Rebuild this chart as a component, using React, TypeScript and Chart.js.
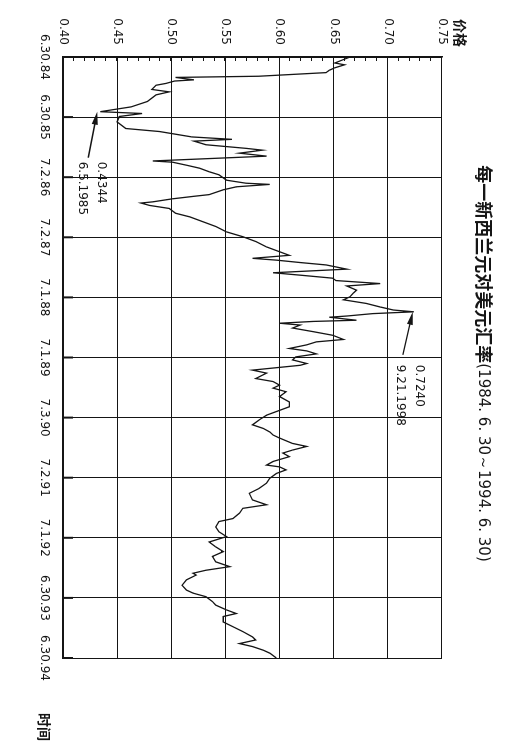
import React, { useEffect, useRef } from "react";
import { Chart, registerables } from "chart.js";

Chart.register(...registerables);

// Time axis: years elapsed since 6.30.1984 (grid every year)
const dateLabels = ["6.30.84", "6.30.85", "7.2.86", "7.2.87", "7.1.88", "7.1.89", "7.3.90", "7.2.91", "7.1.92", "6.30.93", "6.30.94"];
const priceTicks = [0.40, 0.45, 0.50, 0.55, 0.60, 0.65, 0.70, 0.75];

const yearOffsets = [
  0.00, 0.05, 0.10, 0.13, 0.18, 0.22, 0.26, 0.32, 0.34, 0.38, 0.40, 0.44, 0.47, 0.54, 0.58, 0.63, 0.74, 0.83, 0.88, 0.91,
  0.94, 0.99, 1.08, 1.19, 1.24, 1.33, 1.37, 1.40, 1.46, 1.52, 1.55, 1.60, 1.65, 1.73, 1.75, 1.80, 1.85, 1.91, 1.96, 2.05,
  2.10, 2.12, 2.16, 2.21, 2.29, 2.32, 2.36, 2.41, 2.43, 2.47, 2.52, 2.60, 2.66, 2.74, 2.82, 2.91, 2.99, 3.07, 3.16, 3.24,
  3.30, 3.35, 3.38, 3.42, 3.46, 3.53, 3.59, 3.63, 3.68, 3.72, 3.77, 3.81, 3.88, 3.93, 3.99, 4.04, 4.10, 4.16, 4.21, 4.24,
  4.27, 4.31, 4.33, 4.38, 4.40, 4.43, 4.46, 4.51, 4.57, 4.63, 4.70, 4.74, 4.79, 4.85, 4.89, 4.94, 4.99, 5.04, 5.10, 5.13,
  5.21, 5.26, 5.35, 5.40, 5.46, 5.51, 5.57, 5.65, 5.74, 5.82, 5.90, 5.96, 6.04, 6.12, 6.18, 6.24, 6.29, 6.34, 6.43, 6.48,
  6.54, 6.59, 6.65, 6.73, 6.79, 6.82, 6.87, 6.93, 7.01, 7.09, 7.18, 7.26, 7.37, 7.45, 7.51, 7.59, 7.68, 7.73, 7.82, 7.90,
  7.98, 8.07, 8.15, 8.23, 8.31, 8.40, 8.48, 8.54, 8.59, 8.62, 8.70, 8.79, 8.87, 8.92, 8.98, 9.06, 9.12, 9.20, 9.26, 9.31,
  9.40, 9.48, 9.56, 9.65, 9.70, 9.76, 9.81, 9.87, 9.92, 10.00,
];

const rates = [
  0.665, 0.658, 0.651, 0.660, 0.651, 0.646, 0.643, 0.581, 0.504, 0.521, 0.503, 0.495, 0.486, 0.482, 0.498, 0.486, 0.478, 0.463, 0.445, 0.4344,
  0.473, 0.452, 0.450, 0.458, 0.489, 0.519, 0.556, 0.521, 0.532, 0.569, 0.584, 0.563, 0.588, 0.483, 0.501, 0.514, 0.526, 0.535, 0.544, 0.551,
  0.569, 0.591, 0.560, 0.548, 0.535, 0.520, 0.501, 0.483, 0.472, 0.480, 0.498, 0.504, 0.517, 0.529, 0.541, 0.551, 0.566, 0.578, 0.588, 0.600,
  0.609, 0.575, 0.597, 0.619, 0.643, 0.662, 0.594, 0.619, 0.649, 0.652, 0.693, 0.662, 0.671, 0.668, 0.665, 0.659, 0.680, 0.693, 0.705, 0.724,
  0.686, 0.662, 0.646, 0.671, 0.631, 0.600, 0.619, 0.612, 0.631, 0.649, 0.659, 0.634, 0.625, 0.609, 0.625, 0.634, 0.615, 0.612, 0.625, 0.619,
  0.575, 0.588, 0.578, 0.594, 0.600, 0.594, 0.606, 0.600, 0.609, 0.609, 0.597, 0.588, 0.581, 0.575, 0.585, 0.591, 0.594, 0.600, 0.612, 0.625,
  0.612, 0.603, 0.609, 0.594, 0.588, 0.600, 0.606, 0.597, 0.591, 0.588, 0.581, 0.572, 0.575, 0.588, 0.566, 0.563, 0.557, 0.544, 0.541, 0.544,
  0.551, 0.535, 0.541, 0.548, 0.538, 0.541, 0.554, 0.532, 0.520, 0.523, 0.514, 0.510, 0.514, 0.520, 0.532, 0.538, 0.541, 0.551, 0.560, 0.548,
  0.548, 0.557, 0.566, 0.575, 0.578, 0.563, 0.575, 0.585, 0.591, 0.597,
];

const titleMain = "每一新西兰元对美元汇率";
const titleRange = "(1984. 6. 30～1994. 6. 30)";
const yAxisName = "价格";
const xAxisName = "时间";

const lowPoint = { t: 0.91, p: 0.4344, lines: ["0.4344", "6.5.1985"] };
const highPoint = { t: 4.24, p: 0.724, lines: ["0.7240", "9.21.1998"] };

const INK = "#151515";
const NUM_FONT = "12px 'DejaVu Sans'";

function drawArrow(ctx: CanvasRenderingContext2D, fx: number, fy: number, tx: number, ty: number) {
  const ang = Math.atan2(ty - fy, tx - fx);
  const len = 13;
  const hw = 3;
  ctx.beginPath();
  ctx.moveTo(fx, fy);
  ctx.lineTo(tx - Math.cos(ang) * len * 0.8, ty - Math.sin(ang) * len * 0.8);
  ctx.lineWidth = 1.3;
  ctx.strokeStyle = INK;
  ctx.stroke();
  ctx.beginPath();
  ctx.moveTo(tx, ty);
  ctx.lineTo(tx - Math.cos(ang) * len - Math.sin(ang) * hw, ty - Math.sin(ang) * len + Math.cos(ang) * hw);
  ctx.lineTo(tx - Math.cos(ang) * len + Math.sin(ang) * hw, ty - Math.sin(ang) * len - Math.cos(ang) * hw);
  ctx.closePath();
  ctx.fillStyle = INK;
  ctx.fill();
}

const decorPlugin = {
  id: "decor",
  afterDraw(chart: any) {
    const { ctx, chartArea, scales } = chart;
    const xs = scales.x;
    const ys = scales.y;
    ctx.save();

    // minor ticks on the price axis (every 0.01), pointing inward
    ctx.strokeStyle = INK;
    ctx.lineWidth = 1;
    for (let i = 40; i <= 75; i++) {
      const y = Math.round(ys.getPixelForValue(i / 100)) + 0.5;
      ctx.beginPath();
      ctx.moveTo(chartArea.left, y);
      ctx.lineTo(chartArea.left + 4, y);
      ctx.stroke();
    }
    // heavier major ticks along the time axis
    ctx.lineWidth = 2;
    for (let i = 0; i < dateLabels.length; i++) {
      const x = xs.getPixelForValue(i);
      ctx.beginPath();
      ctx.moveTo(x, chartArea.bottom);
      ctx.lineTo(x, chartArea.bottom - 10);
      ctx.stroke();
    }

    // annotations
    ctx.fillStyle = INK;
    ctx.font = NUM_FONT;
    ctx.textAlign = "left";
    ctx.textBaseline = "middle";
    {
      const tx = xs.getPixelForValue(lowPoint.t);
      const ty = ys.getPixelForValue(lowPoint.p) + 3;
      drawArrow(ctx, tx + 46, ty + 9, tx, ty);
      ctx.fillText(lowPoint.lines[0], tx + 50, ty - 4);
      ctx.fillText(lowPoint.lines[1], tx + 50, ty + 15);
    }
    {
      const tx = xs.getPixelForValue(highPoint.t);
      const ty = ys.getPixelForValue(highPoint.p) + 1;
      drawArrow(ctx, tx + 43, ty + 10, tx, ty);
      ctx.fillText(highPoint.lines[0], tx + 53, ty - 6);
      ctx.fillText(highPoint.lines[1], tx + 53, ty + 13);
    }

    // title (bold CJK part + normal range part)
    const f1 = "bold 18px 'Noto Sans CJK SC'";
    const f2 = "15px 'DejaVu Sans'";
    ctx.font = f1;
    const w1 = ctx.measureText(titleMain).width;
    ctx.font = f2;
    const w2 = ctx.measureText(titleRange).width;
    const cx = (chartArea.left + chartArea.right) / 2 + 6;
    let sx = cx - (w1 + w2) / 2;
    const ty = chartArea.top - 42;
    ctx.textBaseline = "middle";
    ctx.font = f1;
    ctx.fillText(titleMain, sx, ty);
    ctx.font = f2;
    ctx.fillText(titleRange, sx + w1, ty + 1);

    // axis names
    ctx.font = "bold 14px 'Noto Sans CJK SC'";
    ctx.textAlign = "left";
    ctx.fillText(yAxisName, chartArea.left - 38, chartArea.top - 18);
    ctx.fillText(xAxisName, chartArea.right + 55, chartArea.bottom + 19);

    ctx.restore();
  },
};

export default function App() {
  const ref = useRef<HTMLCanvasElement | null>(null);

  useEffect(() => {
    if (!ref.current) return;
    const points = yearOffsets.map((t, i) => ({ x: t, y: rates[i] }));
    const chart = new Chart(ref.current, {
      type: "line",
      data: {
        datasets: [
          {
            data: points,
            borderColor: INK,
            borderWidth: 1.3,
            pointRadius: 0,
            tension: 0,
            fill: false,
          },
        ],
      },
      options: {
        animation: false,
        responsive: false,
        maintainAspectRatio: false,
        devicePixelRatio: 1,
        layout: { padding: { top: 78, right: 93, left: 0, bottom: 0 } },
        plugins: {
          legend: { display: false },
          tooltip: { enabled: false },
          title: { display: false },
        },
        scales: {
          x: {
            type: "linear",
            min: 0,
            max: 10,
            afterBuildTicks: (s: any) => {
              s.ticks = dateLabels.map((_, i) => ({ value: i }));
            },
            afterFit: (s: any) => {
              s.height = 63;
            },
            ticks: {
              autoSkip: false,
              maxRotation: 0,
              padding: 12,
              color: INK,
              font: { family: "'DejaVu Sans'", size: 12 },
              callback: (v: any) => dateLabels[Math.round(Number(v))] ?? "",
            },
            grid: { color: INK, lineWidth: 1, drawTicks: false },
            border: { color: INK, width: 2 },
          },
          y: {
            type: "linear",
            min: 0.4,
            max: 0.75,
            afterBuildTicks: (s: any) => {
              s.ticks = priceTicks.map((v) => ({ value: v }));
            },
            afterFit: (s: any) => {
              s.width = 57;
            },
            ticks: {
              padding: 12,
              color: INK,
              font: { family: "'DejaVu Sans'", size: 12 },
              callback: (v: any) => Number(v).toFixed(2),
            },
            grid: { color: INK, lineWidth: 1, drawTicks: false },
            border: { color: INK, width: 1.5 },
          },
        },
      },
      plugins: [decorPlugin],
    });
    return () => chart.destroy();
  }, []);

  return (
    <div
      style={{
        position: "fixed",
        left: 0,
        top: 0,
        width: 520,
        height: 751,
        overflow: "hidden",
        background: "#fff",
      }}
    >
      <div
        style={{
          position: "absolute",
          left: 0,
          top: 0,
          width: 751,
          height: 520,
          transformOrigin: "0 0",
          transform: "translate(520px, 0px) rotate(90deg)",
        }}
      >
        <canvas ref={ref} width={751} height={520} style={{ width: 751, height: 520, display: "block" }} />
      </div>
    </div>
  );
}
